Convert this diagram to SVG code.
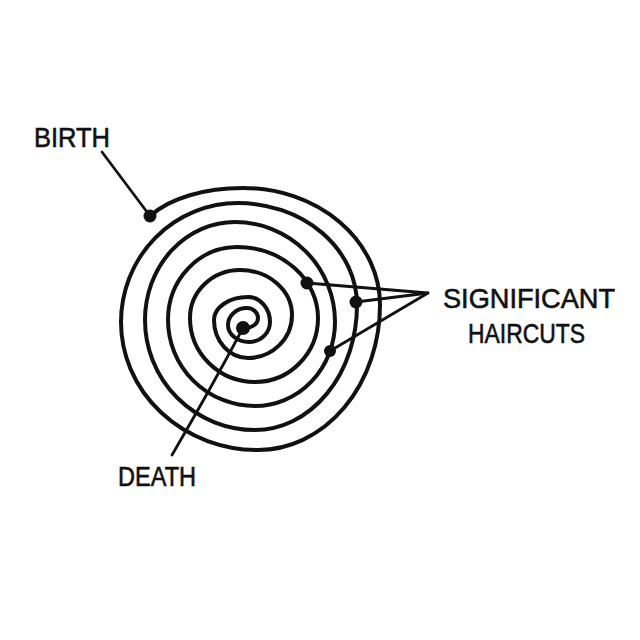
<svg xmlns="http://www.w3.org/2000/svg" width="640" height="640" viewBox="0 0 640 640">
<style>
.ink{fill:none;stroke:#111;stroke-linecap:round;stroke-linejoin:round}
.spiral{stroke-width:4}
.conn{stroke-width:2.8}
.dot{fill:#111}
.lbl{font-family:"Liberation Sans",Arial,sans-serif;font-size:28px;fill:#111;stroke:#111;stroke-width:0.6}
</style>
<rect width="640" height="640" fill="#fff"/>
<g id="spiral">
<path class="ink spiral" d="M150,216 C170,198 205,188 243,188 A137,117 0 0 1 380,305 A122,145 0 0 1 258,450 A137,128 0 0 1 121,322 A117,119 0 0 1 238,203 A119,102 0 0 1 357,305 A102,125 0 0 1 255,430 A110,110 0 0 1 145,320 A90,98 0 0 1 235,222 A100,100 0 0 1 335,322 A80,84 0 0 1 255,406 A87,86 0 0 1 168,320 A69,73 0 0 1 237,247 A81,71 0 0 1 318,318 A63,64 0 0 1 255,382 A65,64 0 0 1 190,318 A50,48 0 0 1 240,270 A52,45 0 0 1 292,315 A44,43 0 0 1 248,358 A34,38 0 0 1 214,320 A34,23 0 0 1 248,297 A22,25 0 0 1 270,322 A21,20 0 0 1 249,342 A21,17 0 0 1 228,325 A19,17 0 0 1 247,308 A11,10 0 0 1 258,318 C258,324 252,328 245,328"/>
</g>
<g id="connectors">
<path class="ink conn" d="M102,152 L150,216"/>
<path class="ink conn" d="M243,328 Q210,390 172,455"/>
<path class="ink conn" d="M307,283 L428,293 L356,302"/>
<path class="ink conn" d="M428,293 L330,351"/>
</g>
<g id="birth">
<circle class="dot" cx="150" cy="216" r="6.5"/>
<text class="lbl" x="34" y="147" textLength="76" lengthAdjust="spacingAndGlyphs">BIRTH</text>
</g>
<g id="death">
<circle class="dot" cx="243" cy="328" r="7"/>
<text class="lbl" x="118" y="486" textLength="78" lengthAdjust="spacingAndGlyphs">DEATH</text>
</g>
<g id="haircuts">
<circle class="dot" cx="307" cy="283" r="6.5"/>
<circle class="dot" cx="356" cy="302" r="6.5"/>
<circle class="dot" cx="330" cy="351" r="6"/>
<text class="lbl" x="443" y="308" textLength="172" lengthAdjust="spacingAndGlyphs">SIGNIFICANT</text>
<text class="lbl" x="468" y="343" textLength="117" lengthAdjust="spacingAndGlyphs">HAIRCUTS</text>
</g>
</svg>
